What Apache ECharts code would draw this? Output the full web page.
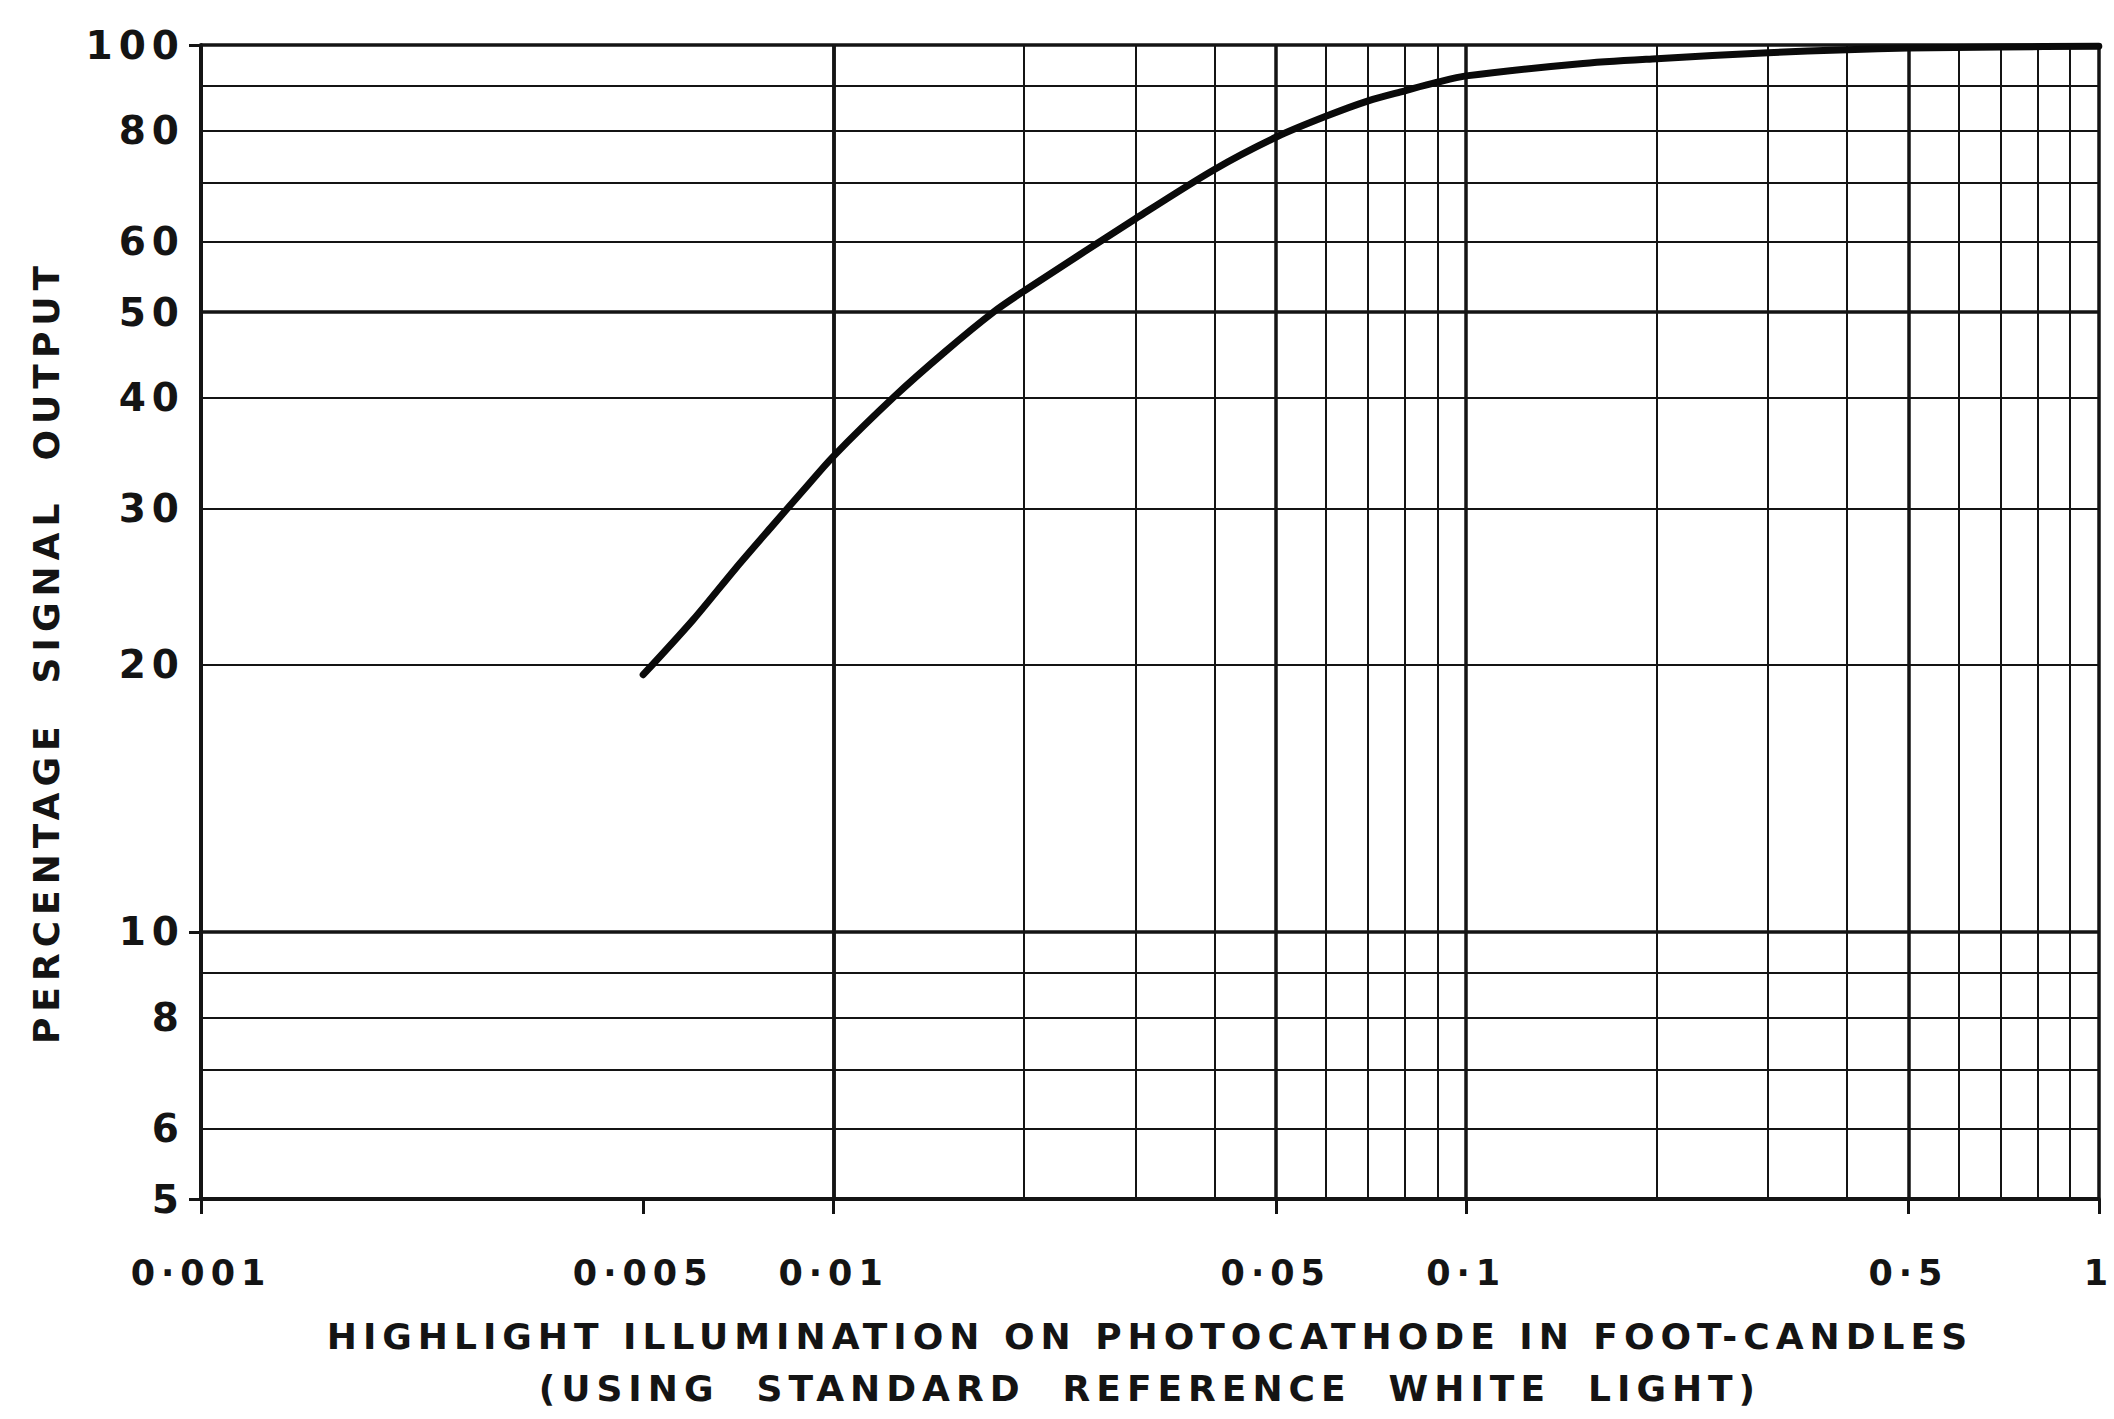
<!DOCTYPE html>
<html><head><meta charset="utf-8">
<script src="https://cdn.jsdelivr.net/npm/echarts@6/dist/echarts.min.js"></script>
<style>
html,body{margin:0;padding:0;background:#fff;overflow:hidden;width:2114px;height:1419px;}
#chart{width:2114px;height:1419px;overflow:hidden;}
#chart svg text{letter-spacing:6px;}
</style></head><body><div id="chart"></div>
<script>
// Curve data: illumination (foot-candles) vs percentage signal output
const illumination = [0.005, 0.006, 0.007, 0.008, 0.009, 0.01, 0.0125, 0.015, 0.0179, 0.02, 0.03, 0.04, 0.05, 0.06, 0.07, 0.08, 0.09, 0.1, 0.15, 0.2, 0.3, 0.4, 0.5, 0.7, 1];
const signalOutput = [19.5, 22.5, 25.7, 28.7, 31.6, 34.4, 40.2, 45.1, 50, 52.8, 63.7, 72.4, 78.7, 83.1, 86.5, 88.8, 90.8, 92.3, 95.2, 96.5, 98, 98.8, 99.2, 99.5, 99.7];

// Axis labels / ticks
const xLabelValues = [0.001, 0.005, 0.01, 0.05, 0.1, 0.5, 1];
const yLabelValues = [5, 6, 8, 10, 20, 30, 40, 50, 60, 80, 100];
const yTickMarkValues = [5, 10, 100];

// Grid lines
const xGridThin = [0.002, 0.003, 0.004, 0.006, 0.007, 0.008, 0.009, 0.02, 0.03, 0.04, 0.06, 0.07, 0.08, 0.09, 0.2, 0.3, 0.4, 0.6, 0.7, 0.8, 0.9];
const xGridBold = [0.005, 0.01, 0.05, 0.1, 0.5, 1];
const yGridThin = [6, 7, 8, 9, 20, 30, 40, 60, 70, 80, 90];
const yGridBold = [10, 50, 100];

const FONT = 'DejaVu Sans';
const INK = '#141414';

const chart = echarts.init(document.getElementById('chart'), null, {renderer: 'svg', width: 2114, height: 1419});

const thin = {type: 'solid', width: 2, color: INK};
const bold = {type: 'solid', width: 3.5, color: INK};
const gridLineData = []
  .concat(xGridThin.map(v => ({xAxis: v, lineStyle: thin})))
  .concat(xGridBold.map(v => ({xAxis: v, lineStyle: bold})))
  .concat(yGridThin.map(v => ({yAxis: v, lineStyle: thin})))
  .concat(yGridBold.map(v => ({yAxis: v, lineStyle: bold})));

chart.setOption({
  backgroundColor: '#fff',
  animation: false,
  grid: {left: 201, right: 6, top: 45, bottom: 213, containLabel: false},
  xAxis: {
    type: 'log', min: 0.001, max: 1, logBase: 10,
    name: 'HIGHLIGHT ILLUMINATION ON PHOTOCATHODE IN FOOT-CANDLES\n(USING  STANDARD  REFERENCE  WHITE  LIGHT)',
    nameLocation: 'middle', nameGap: 111,
    nameTextStyle: {fontFamily: FONT, fontWeight: 'bold', fontSize: 36, color: INK, lineHeight: 52, align: 'center'},
    axisLine: {show: true, onZero: false, lineStyle: {color: INK, width: 4}},
    axisTick: {show: true, inside: false, length: 15, customValues: xLabelValues, lineStyle: {color: INK, width: 3}},
    axisLabel: {show: true, margin: 56, customValues: xLabelValues, fontFamily: FONT, fontWeight: 'bold', fontSize: 35, color: INK,
      showMinLabel: true, showMaxLabel: true,
      formatter: v => String(+Number(v).toPrecision(6)).replace('.', '\u00B7')},
    splitLine: {show: false}, minorTick: {show: false}, minorSplitLine: {show: false}
  },
  yAxis: {
    type: 'log', min: 5, max: 100, logBase: 10,
    name: 'PERCENTAGE  SIGNAL  OUTPUT',
    nameLocation: 'middle', nameGap: 137, nameRotate: 90,
    nameTextStyle: {fontFamily: FONT, fontWeight: 'bold', fontSize: 36, color: INK, padding: [0, 60, 0, 0]},
    axisLine: {show: true, onZero: false, lineStyle: {color: INK, width: 4}},
    axisTick: {show: true, inside: false, length: 12, customValues: yTickMarkValues, lineStyle: {color: INK, width: 3}},
    axisLabel: {show: true, margin: 16, customValues: yLabelValues, fontFamily: FONT, fontWeight: 'bold', fontSize: 39, color: INK,
      showMinLabel: true, showMaxLabel: true,
      formatter: v => String(+Number(v).toPrecision(6))},
    splitLine: {show: false}, minorTick: {show: false}, minorSplitLine: {show: false}
  },
  series: [
    {
      name: 'grid', type: 'line', data: [], z: 1, silent: true,
      markLine: {silent: true, symbol: 'none', label: {show: false}, animation: false, data: gridLineData}
    },
    {
      name: 'Signal output', type: 'line', z: 5,
      data: illumination.map((x, i) => [x, signalOutput[i]]),
      showSymbol: false, symbol: 'none', smooth: 0.3,
      lineStyle: {color: '#0a0a0a', width: 7, cap: 'round', join: 'round'}
    }
  ]
});
</script></body></html>
